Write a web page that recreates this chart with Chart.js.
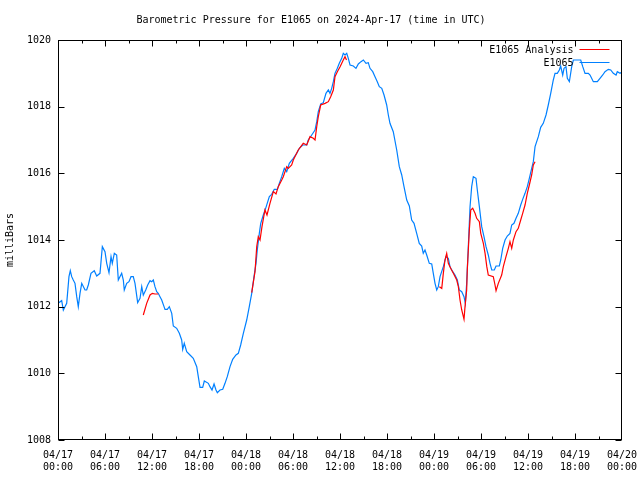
<!DOCTYPE html>
<html>
<head>
<meta charset="utf-8">
<script src="https://cdn.jsdelivr.net/npm/chart.js@4"></script>
<style>
  body { margin: 0; background: #fff; }
  #chart { display: block; }
</style>
</head>
<body>
<canvas id="chart" width="640" height="480"></canvas>
<script>
// Hours since 04/17 00:00 UTC, pressure in millibars
const obsPoints = [
  [0, 1012.1], [0.47, 1012.18], [0.68, 1011.9], [1.11, 1012.1], [1.4, 1012.9], [1.57, 1013.08],
  [1.75, 1012.9], [1.95, 1012.8], [2.17, 1012.7], [2.39, 1012.3], [2.59, 1012.0], [2.81, 1012.4],
  [3.03, 1012.7], [3.45, 1012.5], [3.66, 1012.5], [3.87, 1012.65], [4.21, 1013.0], [4.63, 1013.08],
  [4.94, 1012.92], [5.36, 1013.0], [5.66, 1013.8], [6.0, 1013.65], [6.22, 1013.3], [6.51, 1013.02],
  [6.77, 1013.5], [6.93, 1013.3], [7.19, 1013.6], [7.49, 1013.55], [7.7, 1012.8], [8.13, 1013.0],
  [8.34, 1012.8], [8.46, 1012.5], [8.77, 1012.7], [9.06, 1012.75], [9.32, 1012.9], [9.61, 1012.9],
  [9.83, 1012.7], [10.17, 1012.12], [10.47, 1012.25], [10.69, 1012.6], [10.89, 1012.35], [11.2, 1012.5],
  [11.45, 1012.65], [11.75, 1012.78], [11.96, 1012.75], [12.17, 1012.8], [12.38, 1012.6], [12.6, 1012.45],
  [12.8, 1012.4], [13.02, 1012.3], [13.24, 1012.2], [13.57, 1011.98], [13.66, 1011.92], [13.95, 1011.92],
  [14.21, 1012.0], [14.52, 1011.8], [14.72, 1011.42], [15.15, 1011.35], [15.49, 1011.2], [15.79, 1011.0],
  [15.92, 1010.72], [16.12, 1010.9], [16.43, 1010.65], [16.85, 1010.55], [17.27, 1010.45], [17.71, 1010.2],
  [17.91, 1009.9], [18.13, 1009.58], [18.47, 1009.58], [18.68, 1009.77], [19.19, 1009.7], [19.4, 1009.6],
  [19.66, 1009.5], [19.92, 1009.68], [20.17, 1009.5], [20.34, 1009.42], [20.68, 1009.5], [21.03, 1009.52],
  [21.32, 1009.7], [21.61, 1009.9], [21.96, 1010.2], [22.3, 1010.42], [22.72, 1010.55], [23.02, 1010.6],
  [23.32, 1010.85], [23.66, 1011.2], [24.09, 1011.6], [24.42, 1012.0], [24.73, 1012.4], [25.02, 1012.9],
  [25.28, 1013.3], [25.44, 1013.7], [25.7, 1014.2], [25.88, 1014.5], [26.21, 1014.75], [26.55, 1014.98],
  [26.98, 1015.3], [27.28, 1015.37], [27.61, 1015.52], [28.0, 1015.52], [28.25, 1015.7], [28.56, 1015.9],
  [28.89, 1016.15], [29.2, 1016.05], [29.53, 1016.3], [30.04, 1016.45], [30.47, 1016.6], [30.81, 1016.75],
  [31.24, 1016.85], [31.75, 1016.85], [31.95, 1017.0], [32.39, 1017.15], [32.81, 1017.3], [33.03, 1017.55],
  [33.23, 1017.85], [33.54, 1018.08], [33.87, 1018.12], [34.21, 1018.4], [34.51, 1018.5], [34.72, 1018.4],
  [34.94, 1018.55], [35.15, 1018.75], [35.36, 1019.0], [35.66, 1019.15], [35.91, 1019.3], [36.22, 1019.45],
  [36.42, 1019.6], [36.64, 1019.55], [36.86, 1019.6], [37.06, 1019.45], [37.28, 1019.25], [37.7, 1019.22],
  [38.04, 1019.15], [38.34, 1019.28], [38.68, 1019.35], [38.98, 1019.4], [39.32, 1019.3], [39.61, 1019.32],
  [39.83, 1019.15], [40.18, 1019.05], [40.47, 1018.9], [40.76, 1018.75], [41.02, 1018.6], [41.33, 1018.55],
  [41.62, 1018.35], [41.96, 1018.05], [42.17, 1017.75], [42.38, 1017.5], [42.8, 1017.25], [43.24, 1016.7],
  [43.57, 1016.2], [43.88, 1015.95], [44.17, 1015.6], [44.52, 1015.2], [44.85, 1015.02], [45.15, 1014.6],
  [45.45, 1014.5], [45.79, 1014.2], [46.12, 1013.9], [46.43, 1013.82], [46.63, 1013.6], [46.85, 1013.7],
  [47.07, 1013.55], [47.4, 1013.3], [47.71, 1013.28], [47.91, 1013.0], [48.13, 1012.7], [48.35, 1012.5],
  [48.55, 1012.6], [48.77, 1012.9], [49.19, 1013.2], [49.53, 1013.5], [49.83, 1013.45], [50.04, 1013.2],
  [50.39, 1013.05], [50.68, 1012.95], [50.98, 1012.8], [51.23, 1012.5], [51.54, 1012.45], [51.83, 1012.3],
  [52.0, 1012.1], [52.17, 1012.7], [52.38, 1013.8], [52.6, 1015.0], [52.81, 1015.6], [53.02, 1015.9],
  [53.36, 1015.85], [53.53, 1015.5], [53.79, 1015.0], [54.09, 1014.4], [54.38, 1014.1], [54.64, 1013.8],
  [54.93, 1013.55], [55.15, 1013.3], [55.37, 1013.1], [55.7, 1013.1], [55.92, 1013.22], [56.34, 1013.22],
  [56.52, 1013.4], [56.77, 1013.75], [57.07, 1014.0], [57.36, 1014.12], [57.7, 1014.2], [57.92, 1014.45],
  [58.21, 1014.5], [58.47, 1014.65], [58.76, 1014.8], [59.07, 1015.05], [59.32, 1015.22], [59.62, 1015.4],
  [59.91, 1015.6], [60.17, 1015.85], [60.47, 1016.15], [60.68, 1016.35], [60.9, 1016.8], [61.32, 1017.1],
  [61.62, 1017.38], [61.95, 1017.5], [62.3, 1017.75], [62.59, 1018.05], [62.9, 1018.4], [63.23, 1018.8],
  [63.45, 1019.0], [63.74, 1019.0], [64.0, 1019.1], [64.17, 1019.22], [64.43, 1018.95], [64.6, 1019.15],
  [64.85, 1019.2], [65.02, 1018.85], [65.28, 1018.75], [65.58, 1019.2], [65.79, 1019.4], [66.73, 1019.4],
  [66.99, 1019.2], [67.28, 1019.0], [67.7, 1019.0], [67.92, 1018.95], [68.34, 1018.75], [68.85, 1018.75],
  [69.19, 1018.85], [69.54, 1018.95], [69.83, 1019.05], [70.25, 1019.12], [70.56, 1019.1], [70.89, 1019.0],
  [71.24, 1018.95], [71.4, 1019.05], [71.75, 1019.0], [72.0, 1019.05]
];

// Analysis comes in separate pieces
const anaPiece1 = [
  [10.89, 1011.75], [11.32, 1012.1], [11.75, 1012.35], [12.04, 1012.4], [12.38, 1012.38], [12.8, 1012.38]
];
const anaPiece2 = [
  [24.73, 1012.42], [25.15, 1013.05], [25.37, 1013.8], [25.57, 1014.1], [25.79, 1014.0], [26.04, 1014.4],
  [26.42, 1014.9], [26.68, 1014.75], [27.06, 1015.1], [27.49, 1015.45], [27.83, 1015.38], [28.12, 1015.6],
  [28.56, 1015.8], [28.76, 1015.9], [29.2, 1016.2], [29.4, 1016.15], [29.83, 1016.25], [30.04, 1016.4],
  [30.67, 1016.7], [31.31, 1016.9], [31.75, 1016.85], [32.17, 1017.1], [32.59, 1017.05], [32.81, 1017.0],
  [33.03, 1017.4], [33.23, 1017.7], [33.54, 1018.05], [34.09, 1018.1], [34.51, 1018.15], [34.81, 1018.3],
  [35.15, 1018.5], [35.36, 1018.9], [35.66, 1019.05], [36.01, 1019.2], [36.42, 1019.4], [36.64, 1019.5],
  [36.83, 1019.4]
];
const anaPiece3 = [
  [48.68, 1012.6], [48.99, 1012.55], [49.19, 1013.0], [49.4, 1013.4], [49.62, 1013.6], [49.83, 1013.3],
  [50.13, 1013.15], [50.47, 1013.0], [50.9, 1012.8], [51.11, 1012.6], [51.32, 1012.2], [51.54, 1011.9],
  [51.83, 1011.62], [51.96, 1012.0], [52.17, 1012.5], [52.25, 1013.1], [52.51, 1014.3], [52.69, 1014.9],
  [52.94, 1014.95], [53.24, 1014.8], [53.45, 1014.65], [53.79, 1014.55], [53.97, 1014.2], [54.3, 1013.9],
  [54.52, 1013.6], [54.74, 1013.2], [54.93, 1012.95], [55.57, 1012.9], [55.79, 1012.65], [55.92, 1012.48],
  [56.21, 1012.7], [56.64, 1012.95], [56.85, 1013.2], [57.19, 1013.5], [57.49, 1013.75], [57.7, 1013.95],
  [57.92, 1013.75], [58.13, 1014.0], [58.47, 1014.25], [58.76, 1014.35], [59.07, 1014.6], [59.32, 1014.8],
  [59.62, 1015.05], [59.91, 1015.4], [60.17, 1015.65], [60.47, 1015.95], [60.68, 1016.25], [60.9, 1016.35]
];

const xTickDates = ['04/17', '04/17', '04/17', '04/17', '04/18', '04/18', '04/18', '04/18', '04/19', '04/19', '04/19', '04/19', '04/20'];
const xTickTimes = ['00:00', '06:00', '12:00', '18:00', '00:00', '06:00', '12:00', '18:00', '00:00', '06:00', '12:00', '18:00', '00:00'];

const FONT = { family: "'DejaVu Sans Mono', 'Liberation Mono', monospace", size: 10 };

const toXY = (pts) => pts.map(p => ({ x: p[0], y: p[1] }));

// join analysis pieces with null gaps
const anaData = [];
[anaPiece1, anaPiece2, anaPiece3].forEach((piece, i) => {
  if (i > 0) anaData.push({ x: piece[0][0] - 0.01, y: null });
  anaData.push(...toXY(piece));
});

// gnuplot style frame, inward ticks and legend
const framePlugin = {
  id: 'frame',
  afterDraw(chart) {
    const ctx = chart.ctx;
    const a = chart.chartArea;
    const xs = chart.scales.x;
    const ys = chart.scales.y;
    const L = Math.round(a.left) + 0.5, R = Math.round(a.right) - 0.5;
    const T = Math.round(a.top) + 0.5, B = Math.round(a.bottom) - 0.5;
    ctx.save();
    ctx.strokeStyle = '#000';
    ctx.lineWidth = 1;
    ctx.beginPath();
    for (let h = 3; h < 72; h += 3) {
      const px = Math.round(xs.getPixelForValue(h)) + 0.5;
      const len = h % 6 === 0 ? 6 : 3;
      ctx.moveTo(px, B); ctx.lineTo(px, B - len);
      ctx.moveTo(px, T); ctx.lineTo(px, T + len);
    }
    ys.ticks.forEach(t => {
      const py = Math.round(ys.getPixelForValue(t.value)) + 0.5;
      ctx.moveTo(L, py); ctx.lineTo(L + 6, py);
      ctx.moveTo(R, py); ctx.lineTo(R - 6, py);
    });
    ctx.stroke();
    ctx.strokeRect(L, T, R - L, B - T);

    // legend in top right corner
    ctx.font = FONT.size + 'px ' + FONT.family;
    ctx.textAlign = 'right';
    ctx.textBaseline = 'middle';
    chart.data.datasets.forEach((ds, i) => {
      const y = T + 9.5 + i * 13;
      ctx.fillStyle = '#000';
      ctx.fillText(ds.label, R - 48, y);
      ctx.strokeStyle = ds.borderColor;
      ctx.beginPath();
      ctx.moveTo(R - 42, Math.round(y) - 0.5);
      ctx.lineTo(R - 12, Math.round(y) - 0.5);
      ctx.stroke();
    });
    ctx.restore();
  }
};

new Chart(document.getElementById('chart').getContext('2d'), {
  type: 'line',
  data: {
    datasets: [
      {
        label: 'E1065 Analysis',
        data: anaData,
        borderColor: '#ff0000',
        borderWidth: 1.2,
        pointRadius: 0,
        tension: 0,
        spanGaps: false
      },
      {
        label: 'E1065',
        data: toXY(obsPoints),
        borderColor: '#0080ff',
        borderWidth: 1.2,
        pointRadius: 0,
        tension: 0
      }
    ]
  },
  options: {
    responsive: false,
    animation: false,
    layout: { padding: { left: 0, right: 18, top: 0, bottom: 0 } },
    scales: {
      x: {
        type: 'linear',
        min: 0,
        max: 72,
        afterFit(scale) {
          scale.height = 40;
          scale.paddingLeft = 0;
          scale.paddingRight = 0;
        },
        grid: { display: false, drawTicks: false },
        border: { display: false },
        ticks: {
          stepSize: 6,
          autoSkip: false,
          maxRotation: 0,
          padding: 9,
          color: '#000',
          font: FONT,
          callback: (v) => {
            const i = Math.round(v / 6);
            return [xTickDates[i], xTickTimes[i]];
          }
        }
      },
      y: {
        min: 1008,
        max: 1020,
        afterFit(scale) {
          scale.width = 58;
          scale.paddingTop = 0;
          scale.paddingBottom = 0;
        },
        grid: { display: false, drawTicks: false },
        border: { display: false },
        ticks: { stepSize: 2, padding: 7, color: '#000', font: FONT, callback: (v) => String(v) },
        title: { display: true, text: 'milliBars', color: '#000', font: FONT, padding: { top: 4, bottom: 4 } }
      }
    },
    plugins: {
      legend: { display: false },
      tooltip: { enabled: false },
      title: {
        display: true,
        text: 'Barometric Pressure for E1065 on 2024-Apr-17 (time in UTC)',
        color: '#000',
        font: { family: FONT.family, size: 10, weight: 'normal' },
        padding: { top: 14, bottom: 14 }
      }
    }
  },
  plugins: [framePlugin]
});
</script>
</body>
</html>
